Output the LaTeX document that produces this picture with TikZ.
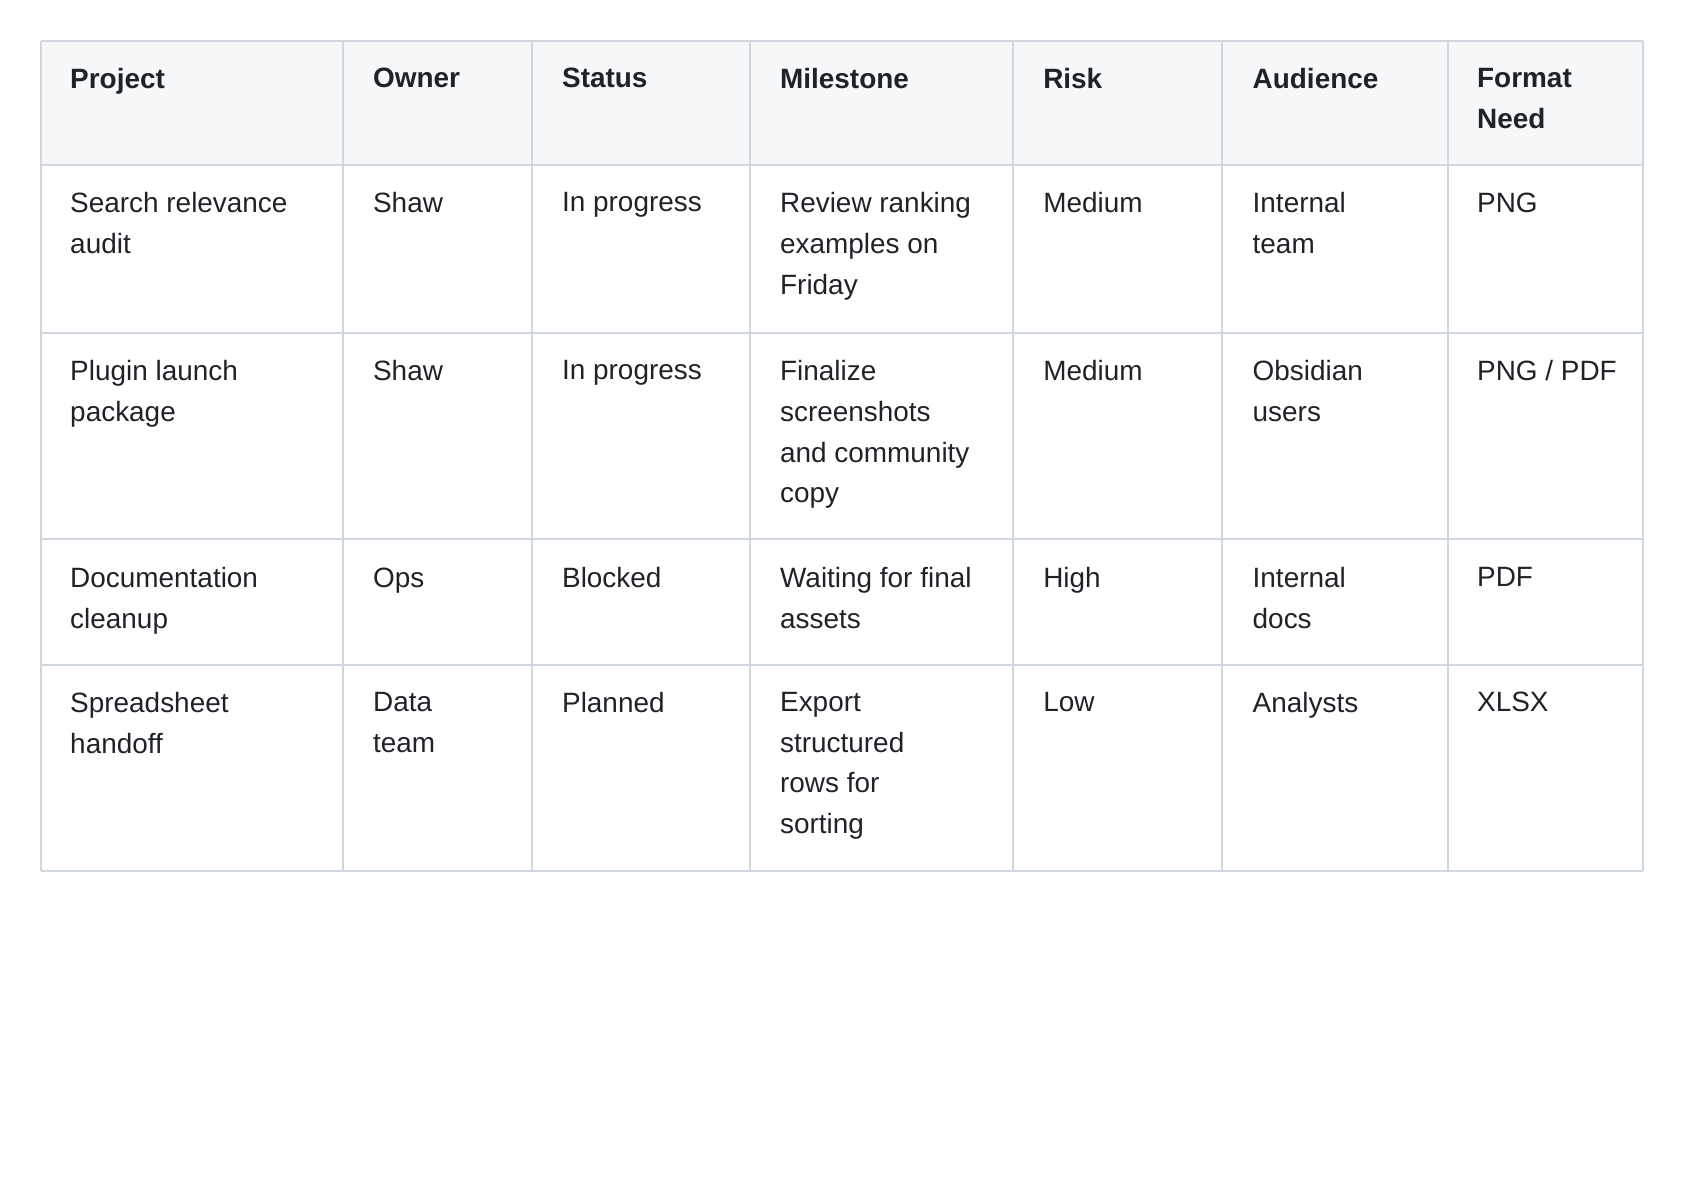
\documentclass[tikz,border=0pt]{standalone}
\usepackage{fontspec}
\setmainfont{Liberation Sans}
\usepackage{tikz}
\definecolor{gridline}{HTML}{D0D7DE}
\definecolor{headfill}{HTML}{F6F8FA}
\definecolor{ink}{HTML}{1F2328}
\tikzset{
  cell/.style={anchor=north west, inner sep=0pt, align=left, text=ink,
    font=\fontsize{13}{19}\selectfont},
  headcell/.style={cell, font=\fontsize{13}{19}\selectfont\bfseries}
}
\begin{document}
\begin{tikzpicture}[x=0.5pt, y=-0.5pt]
\useasboundingbox (0,0) rectangle (1568,1109);
\fill[headfill] (38,38) rectangle (1530,154);
%%------------ grid
\foreach \yy in {38,154,310,502,619,811}
  \draw[gridline, line width=1pt] (38,\yy) -- (1530,\yy);
\foreach \xx in {38,319,495,698,943,1138,1348,1530}
  \draw[gridline, line width=1pt] (\xx,38) -- (\xx,811);
%%------------ header
\node[headcell] (hproject) at (65,63) {Project};
\node[headcell] (howner) at (347,63) {Owner};
\node[headcell] (hstatus) at (523,63) {Status};
\node[headcell] (hmile) at (726,63) {Milestone};
\node[headcell] (hrisk) at (971,63) {Risk};
\node[headcell] (haud) at (1166,63) {Audience};
\node[headcell] (hformat) at (1375,63) {Format\\Need};
%%------------ rows
\node[cell] (search) at (65,179) {Search relevance\\audit};
\node[cell] (searchowner) at (347,179) {Shaw};
\node[cell] (searchstatus) at (523,179) {In progress};
\node[cell] (searchmile) at (726,179) {Review ranking\\examples on\\Friday};
\node[cell] (searchrisk) at (971,179) {Medium};
\node[cell] (searchaud) at (1166,179) {Internal\\team};
\node[cell] (searchformat) at (1375,179) {PNG};
%%------------
\node[cell] (plugin) at (65,335) {Plugin launch\\package};
\node[cell] (pluginowner) at (347,335) {Shaw};
\node[cell] (pluginstatus) at (523,335) {In progress};
\node[cell] (pluginmile) at (726,335) {Finalize\\screenshots\\and community\\copy};
\node[cell] (pluginrisk) at (971,335) {Medium};
\node[cell] (pluginaud) at (1166,335) {Obsidian\\users};
\node[cell] (pluginformat) at (1375,335) {PNG / PDF};
%%------------
\node[cell] (docs) at (65,528) {Documentation\\cleanup};
\node[cell] (docsowner) at (347,528) {Ops};
\node[cell] (docsstatus) at (523,528) {Blocked};
\node[cell] (docsmile) at (726,528) {Waiting for final\\assets};
\node[cell] (docsrisk) at (971,528) {High};
\node[cell] (docsaud) at (1166,528) {Internal\\docs};
\node[cell] (docsformat) at (1375,528) {PDF};
%%------------
\node[cell] (sheet) at (65,644) {Spreadsheet\\handoff};
\node[cell] (sheetowner) at (347,644) {Data\\team};
\node[cell] (sheetstatus) at (523,644) {Planned};
\node[cell] (sheetmile) at (726,644) {Export\\structured\\rows for\\sorting};
\node[cell] (sheetrisk) at (971,644) {Low};
\node[cell] (sheetaud) at (1166,644) {Analysts};
\node[cell] (sheetformat) at (1375,644) {XLSX};
\end{tikzpicture}
\end{document}
